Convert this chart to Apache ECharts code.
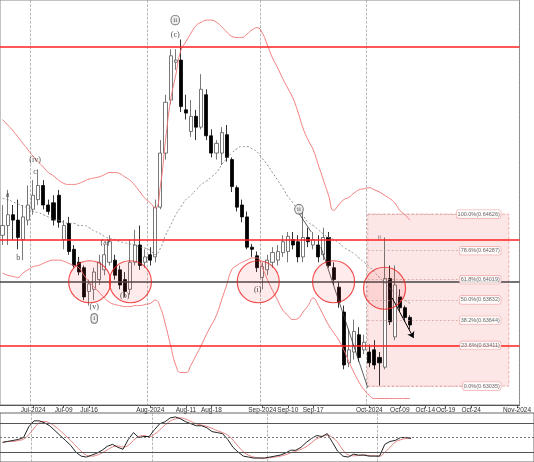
<!DOCTYPE html>
<html><head><meta charset="utf-8">
<script src="https://cdn.jsdelivr.net/npm/echarts@6/dist/echarts.min.js"></script>
<style>html,body{margin:0;padding:0;background:#fff}#c{width:534px;height:462px}</style>
</head><body><div id="c"></div>
<script>
// OHLC as [open, close, low, high]
const candles = [
[.6443,.6452,.6434,.6471],[.6452,.6462,.6434,.6485],[.6462,.6457,.6439,.6471],[.6457,.6441,.6430,.6476],
[.6439,.6460,.6420,.6471],[.6457,.6471,.6452,.6489],[.6467,.6480,.6462,.6494],[.6476,.6489,.6471,.6504],
[.6489,.6471,.6467,.6494],[.6471,.6465,.6462,.6476],[.6473,.6457,.6452,.6480],[.6480,.6455,.6450,.6485],
[.6439,.6452,.6430,.6457],[.6454,.6428,.6425,.6460],[.6430,.6415,.6413,.6434],[.6418,.6409,.6406,.6423],
[.6413,.6386,.6383,.6415],[.6391,.6398,.6378,.6402],[.6393,.6409,.6383,.6413],[.6402,.6418,.6397,.6425],
[.6411,.6425,.6406,.6434],[.6418,.6437,.6415,.6443],[.6420,.6406,.6402,.6425],[.6411,.6397,.6393,.6415],
[.6402,.6391,.6386,.6409],[.6393,.6418,.6388,.6439],[.6418,.6434,.6415,.6448],[.6434,.6415,.6411,.6452],
[.6418,.6423,.6413,.6430],[.6425,.6420,.6415,.6432],[.6423,.6469,.6418,.6476],[.6469,.6519,.6467,.6531],
[.6519,.6566,.6513,.6573],[.6568,.6609,.6564,.6615],[.6603,.6605,.6596,.6615],[.6605,.6562,.6557,.6624],
[.6559,.6556,.6550,.6573],[.6539,.6553,.6534,.6568],[.6553,.6543,.6531,.6559],[.6543,.6578,.6541,.6592],
[.6573,.6535,.6531,.6578],[.6535,.6519,.6515,.6541],[.6519,.6528,.6513,.6531],[.6519,.6538,.6508,.6543],
[.6536,.6515,.6511,.6545],[.6513,.6488,.6483,.6515],[.6487,.6469,.6465,.6489],[.6471,.6460,.6455,.6476],
[.6460,.6432,.6430,.6465],[.6432,.6430,.6423,.6435],[.6424,.6413,.6409,.6428],[.6404,.6414,.6393,.6418],
[.6411,.6420,.6406,.6425],[.6418,.6427,.6413,.6432],[.6420,.6428,.6415,.6434],[.6427,.6437,.6423,.6443],
[.6428,.6442,.6418,.6446],[.6439,.6434,.6430,.6446],[.6437,.6423,.6418,.6443],[.6423,.6441,.6418,.6467],
[.6441,.6437,.6432,.6450],[.6434,.6439,.6430,.6446],[.6434,.6423,.6418,.6443],[.6425,.6441,.6420,.6450],
[.6441,.6415,.6413,.6446],[.6413,.6402,.6397,.6418],[.6395,.6381,.6376,.6400],[.6372,.6323,.6319,.6378],
[.6325,.6337,.6321,.6356],[.6335,.6354,.6328,.6365],[.6351,.6330,.6326,.6358],[.6337,.6344,.6333,.6351],
[.6335,.6325,.6321,.6342],[.6337,.6323,.6319,.6346],[.6330,.6325,.6304,.6335],[.6321,.6403,.6319,.6441],
[.6403,.6363,.6360,.6415],[.6349,.6397,.6346,.6415],[.6386,.6376,.6372,.6393],[.6376,.6367,.6363,.6378],
[.6367,.6360,.6356,.6369]
];
const bbUpper = [.6550,.6545,.6540,.6534,.6528,.6522,.6516,.6511,.6506,.6501,.6498,.6494,.6491,.6490,.6490,.6491,.6493,.6495,.6496,.6497,
.6499,.6501,.6501,.6500,.6497,.6494,.6489,.6483,.6477,.6473,.6468,.6489,.6531,.6568,.6591,.6614,.6622,.6630,.6637,.6640,
.6642,.6642,.6640,.6636,.6631,.6627,.6626,.6626,.6629,.6633,.6635,.6630,.6619,.6607,.6598,.6588,.6579,.6570,.6557,.6542,
.6531,.6522,.6508,.6494,.6480,.6466,.6471,.6476,.6478,.6482,.6485,.6486,.6487,.6485,.6483,.6480,.6477,.6473,.6466,.6462,.6457];
const bbLower = [.6408,.6406,.6405,.6404,.6408,.6411,.6414,.6415,.6417,.6419,.6420,.6420,.6419,.6417,.6415,.6413,.6406,.6400,.6395,.6390,
.6385,.6381,.6379,.6378,.6377,.6377,.6378,.6378,.6379,.6380,.6383,.6376,.6360,.6341,.6323,.6316,.6316,.6323,.6332,.6341,
.6351,.6360,.6369,.6383,.6397,.6411,.6415,.6418,.6420,.6422,.6422,.6413,.6402,.6392,.6383,.6374,.6369,.6365,.6366,.6372,
.6378,.6385,.6378,.6369,.6360,.6353,.6346,.6337,.6326,.6316,.6307,.6300,.6295,.6292,.6292,.6292,.6292,.6292,.6292,.6292,.6292];
const bbMid = [.6477,.6476,.6474,.6472,.6470,.6468,.6465,.6464,.6462,.6460,.6458,.6457,.6455,.6454,.6454,.6452,.6452,.6450,.6447,.6445,
.6442,.6440,.6439,.6437,.6436,.6435,.6434,.6432,.6431,.6429,.6425,.6431,.6443,.6452,.6462,.6469,.6476,.6480,.6485,.6490,
.6493,.6497,.6501,.6508,.6514,.6519,.6523,.6525,.6525,.6523,.6520,.6514,.6508,.6501,.6494,.6487,.6479,.6473,.6466,.6461,
.6455,.6452,.6448,.6444,.6441,.6439,.6436,.6432,.6429,.6426,.6422,.6418,.6414,.6409,.6404,.6399,.6394,.6390,.6386,.6383,.6380];
const stochK = [40,42,44,46,50,72,84,84,80,74,64,54,44,34,20,12,10,14,18,24,32,36,30,26,46,60,50,52,52,66,
78,82,90,92,88,82,78,74,74,70,62,60,58,46,30,20,12,10,8,8,8,10,12,14,18,24,24,30,40,48,
54,52,58,40,22,12,10,16,14,14,12,12,12,36,42,44,50,50,48];
const tickLabels = [[6,'Jul-2024'],[12,'Jul-09'],[17,'Jul-16'],[29,'Aug-2024'],[36,'Aug-11'],[41,'Aug-18'],
[51,'Sep-2024'],[56,'Sep-10'],[61,'Sep-17'],[72,'Oct-2024'],[78,'Oct-09'],[83,'Oct-14'],[87,'Oct-19'],[92,'Oct-24'],[101,'Nov-2024']];
const monthIdx = [6,29,51,72];
const fibLevels = [['100.0%',0.64626],['78.6%',0.64287],['61.8%',0.64019],['50.0%',0.63832],['38.2%',0.63644],['23.6%',0.63411],['0.0%',0.63035]];
const redLevels = [0.6617,0.6439,0.6341];
const blackLevel = 0.6400;
const circles = [[17.6,0.6400],[25.6,0.6400],[50.7,0.6400],[65.5,0.6400],[75.5,0.6394]];
const waveLabels = [['(iv)',6.9,.6513],['c',6.9,.6502],['a',1.5,.6480],['b',3.6,.6422],['(a)',20.6,.6436],['(v)',18.5,.6377],
['(b)',24.5,.6387],['(c)',34.4,.6628],['(i)',50.6,.6392]];
const circledLabels = [['i',18.5,.6366],['ii',34.4,.6642],['ii',58.7,.6467]];

const N = 102;
const cats = []; {let d = new Date(Date.UTC(2024,5,21)); while(cats.length<N){const w=d.getUTCDay(); if(w!==0&&w!==6) cats.push(d.toISOString().slice(0,10)); d.setUTCDate(d.getUTCDate()+1);} }
const labMap = {}; tickLabels.forEach(t=>labMap[t[0]]=t[1]);
const stochD = stochK.map((v,i)=> i<2? v : (stochK[i]+stochK[i-1]+stochK[i-2])/3);
const yMin=0.62860, yMax=0.66606;
const chart = echarts.init(document.getElementById('c'));
const fibLeft=72.2, fibRight=99.9;
chart.setOption({
  animation:false,
  grid:[{left:0,right:0,top:0,bottom:57,show:true,borderColor:'#888',borderWidth:1},
        {left:0,right:0,top:413,height:50,show:true,borderColor:'#666',borderWidth:1}],
  xAxis:[
    {type:'category',data:cats,gridIndex:0,boundaryGap:true,
     axisLine:{lineStyle:{color:'#555'}},
     axisTick:{show:true,interval:(i)=>labMap[i]!==undefined,alignWithLabel:true,length:3,lineStyle:{color:'#555'}},
     axisLabel:{interval:(i)=>labMap[i]!==undefined,formatter:(v,i)=>labMap[i]||'',fontSize:6.5,color:'#333',margin:2,fontFamily:'Liberation Sans'},
     splitLine:{show:true,interval:(i)=>monthIdx.includes(i),lineStyle:{type:'dashed',color:'#999',width:0.7}}},
    {type:'value',gridIndex:0,min:0,max:N,show:false},
    {type:'category',data:cats,gridIndex:1,boundaryGap:true,axisLine:{show:false},axisTick:{show:false},axisLabel:{show:false},
     splitLine:{show:true,interval:(i)=>monthIdx.includes(i),lineStyle:{type:'dashed',color:'#999',width:0.7}}}
  ],
  yAxis:[
    {type:'value',gridIndex:0,min:yMin,max:yMax,show:false,splitLine:{show:false}},
    {type:'value',gridIndex:1,min:0,max:100,show:false,splitLine:{show:false}}
  ],
  series:[
    {type:'line',xAxisIndex:0,yAxisIndex:0,data:bbUpper,symbol:'none',smooth:true,lineStyle:{color:'#f07070',width:0.9}},
    {type:'line',xAxisIndex:0,yAxisIndex:0,data:bbLower,symbol:'none',smooth:true,lineStyle:{color:'#f07070',width:0.9}},
    {type:'line',xAxisIndex:0,yAxisIndex:0,data:bbMid,symbol:'none',smooth:true,lineStyle:{color:'#777',width:0.8,type:[2,2]}},
    {type:'candlestick',xAxisIndex:0,yAxisIndex:0,data:candles,barWidth:3.6,
     itemStyle:{color:'#fff',color0:'#000',borderColor:'#555',borderColor0:'#000',borderWidth:0.8}},
    {type:'scatter',xAxisIndex:1,yAxisIndex:0,data:circles,symbol:'circle',symbolSize:42,
     itemStyle:{color:'rgba(255,60,60,0.13)',borderColor:'#ee2222',borderWidth:1.2},z:5,
     markArea:{silent:true,itemStyle:{color:'rgba(240,140,140,0.22)',borderColor:'#f0a0a0',borderWidth:0.8,borderType:'dashed'},
       data:[[{coord:[fibLeft,fibLevels[0][1]]},{coord:[fibRight,fibLevels[6][1]]}]]},
     markLine:{silent:true,symbol:'none',label:{show:false},lineStyle:{color:'#c99',type:[2,2],width:0.7},
       data:[...fibLevels.map(f=>[{coord:[fibLeft,f[1]]},{coord:[93,f[1]]}]),
         ...redLevels.map(v=>[{coord:[0,v],lineStyle:{color:'#ff2020',width:1.6,type:'solid'}},{coord:[N,v]}]),
         [{coord:[0,blackLevel],lineStyle:{color:'#444',width:1.6,type:'solid'}},{coord:[N,blackLevel]}],
         [{coord:[63,.6432],lineStyle:{color:'#333',type:'solid',width:0.8}},{coord:[72.2,.6302]}],
         [{coord:[58.6,.6464],lineStyle:{color:'#333',type:'solid',width:0.8}},{coord:[61.1,.6446]}],
         [{coord:[77,.6385],symbol:'none',lineStyle:{color:'#000',type:'solid',width:1}},{coord:[81.2,.6348],symbol:'arrow',symbolSize:6}]]}},
    {type:'scatter',xAxisIndex:1,yAxisIndex:0,symbolSize:0,z:6,
     data:fibLevels.map(f=>({value:[99.3,f[1]],label:{formatter:f[0]+'('+f[1].toFixed(5)+')'}})),
     label:{show:true,position:'left',fontSize:5.5,color:'#444',backgroundColor:'#fff',borderColor:'#e99',borderWidth:0.6,borderRadius:2,padding:[1,1]}},
    {type:'scatter',xAxisIndex:1,yAxisIndex:0,symbolSize:0,z:6,
     data:waveLabels.map(w=>({value:[w[1],w[2]],label:{formatter:w[0]}})),
     label:{show:true,position:'inside',fontSize:8,color:'#222',fontFamily:'Liberation Serif'}},
    {type:'scatter',xAxisIndex:1,yAxisIndex:0,symbolSize:0,z:6,
     data:circledLabels.map(w=>({value:[w[1],w[2]],label:{formatter:w[0]}})),
     label:{show:true,position:'inside',fontSize:7,color:'#222',fontFamily:'Liberation Serif',borderColor:'#333',borderWidth:0.7,borderRadius:6,padding:[1,2],backgroundColor:'#eee'}},
    {type:'scatter',xAxisIndex:1,yAxisIndex:0,symbolSize:0,z:6,data:[{value:[74.5,.6441],label:{formatter:'ii'}}],
     label:{show:true,position:'inside',fontSize:6,color:'#333'}},
    {type:'line',xAxisIndex:2,yAxisIndex:1,data:stochD,symbol:'none',smooth:true,lineStyle:{color:'#e07070',width:0.9},
     markLine:{silent:true,symbol:'none',label:{show:false},
       data:[{yAxis:80,lineStyle:{color:'#555',type:'solid',width:1}},{yAxis:50,lineStyle:{color:'#777',type:[2,2],width:1}},{yAxis:20,lineStyle:{color:'#555',type:'solid',width:1}}]}},
    {type:'line',xAxisIndex:2,yAxisIndex:1,data:stochK,symbol:'none',lineStyle:{color:'#222',width:1}}
  ]
});
</script></body></html>
